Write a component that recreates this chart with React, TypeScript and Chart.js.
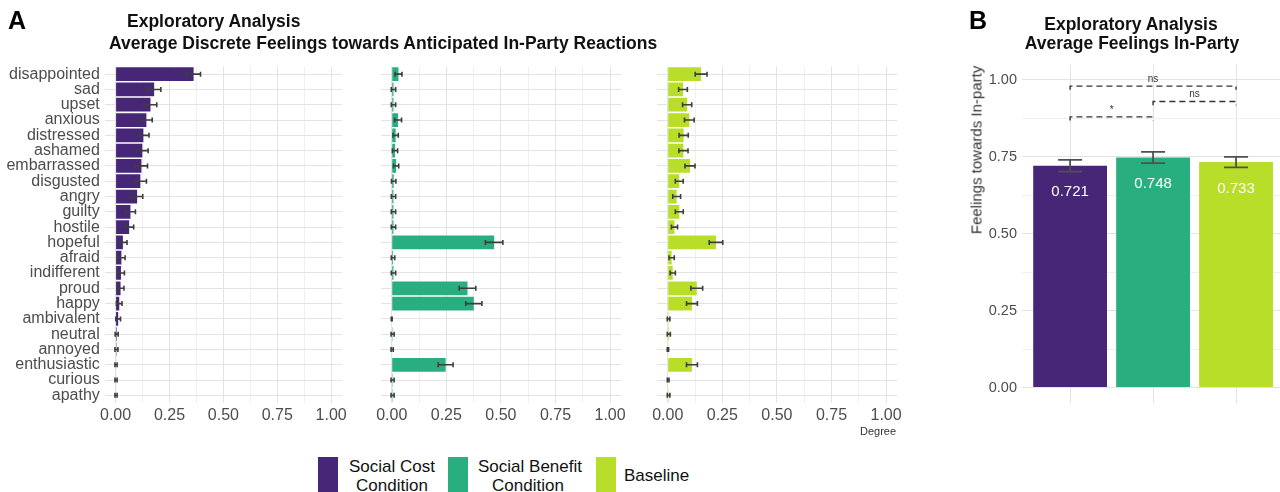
import React, { useEffect, useRef } from "react";
import { Chart, registerables } from "chart.js";

Chart.register(...registerables);

const FONT = '"Liberation Sans", Arial, Helvetica, sans-serif';

// Discrete feelings, top to bottom
const feelings = [
  "disappointed", "sad", "upset", "anxious", "distressed", "ashamed",
  "embarrassed", "disgusted", "angry", "guilty", "hostile", "hopeful",
  "afraid", "indifferent", "proud", "happy", "ambivalent", "neutral",
  "annoyed", "enthusiastic", "curious", "apathy",
];

// Mean degree of each feeling per condition
const socialCostMeans = [
  0.362, 0.179, 0.162, 0.143, 0.129, 0.124, 0.12, 0.115, 0.1, 0.069, 0.063,
  0.034, 0.027, 0.025, 0.023, 0.017, 0.012, 0.005, 0.004, 0.002, 0.002, 0.002,
];
const socialBenefitMeans = [
  0.031, 0.008, 0.008, 0.029, 0.018, 0.015, 0.02, 0.009, 0.008, 0.008, 0.008,
  0.469, 0.006, 0.008, 0.347, 0.376, 0.0, 0.004, 0.002, 0.247, 0.004, 0.004,
];
const baselineMeans = [
  0.153, 0.07, 0.089, 0.099, 0.073, 0.072, 0.102, 0.053, 0.041, 0.053, 0.031,
  0.221, 0.018, 0.023, 0.133, 0.111, 0.004, 0.005, 0.001, 0.111, 0.002, 0.004,
];

// Standard errors for the feelings
const socialCostErrors = [
  0.032, 0.031, 0.029, 0.027, 0.026, 0.027, 0.028, 0.028, 0.026, 0.023, 0.021,
  0.019, 0.017, 0.016, 0.016, 0.013, 0.011, 0.007, 0.007, 0.005, 0.005, 0.005,
];
const socialBenefitErrors = [
  0.016, 0.01, 0.01, 0.016, 0.012, 0.012, 0.012, 0.01, 0.01, 0.01, 0.01,
  0.04, 0.008, 0.01, 0.038, 0.037, 0.002, 0.007, 0.005, 0.034, 0.007, 0.007,
];
const baselineErrors = [
  0.027, 0.02, 0.021, 0.022, 0.021, 0.021, 0.023, 0.018, 0.018, 0.018, 0.014,
  0.031, 0.012, 0.012, 0.027, 0.025, 0.006, 0.007, 0.003, 0.025, 0.004, 0.006,
];

// Conditions
const conditionNames = ["Social Cost Condition", "Social Benefit Condition", "Baseline"];
const conditionColors = ["#482677", "#29AF7F", "#B8DE29"];

// Average feelings towards the in-party
const inPartyMeans = [0.721, 0.748, 0.733];
const inPartyErrors = [0.019, 0.018, 0.017];

// Pairwise comparisons (condition indices), bracket heights and labels
const comparisonPairs = [[0, 2], [1, 2], [0, 1]];
const comparisonLevels = [0.98, 0.93, 0.88];
const comparisonLabels = ["ns", "ns", "*"];

// Axis ticks: all gridlines, and those that carry a label
const gridTicks = [0, 0.125, 0.25, 0.375, 0.5, 0.625, 0.75, 0.875, 1];
const labelTicks = [0, 0.25, 0.5, 0.75, 1];

const TICK_COLOR = "#4d4d4d";
const MAJOR_GRID = "#e3e3e3";
const MINOR_GRID = "#f0f0f0";

const gridColor = (c: any) =>
  c.tick && labelTicks.includes(c.tick.value) ? MAJOR_GRID : MINOR_GRID;

// Draws mean ± error whiskers on the first dataset
const errorBarPlugin = {
  id: "errorBars",
  afterDatasetsDraw(chart: any, _args: any, opts: any) {
    if (!opts || !opts.errors) return;
    const ctx = chart.ctx;
    const meta = chart.getDatasetMeta(0);
    const values = chart.data.datasets[0].data;
    const horizontal = chart.options.indexAxis === "y";
    const valueScale = horizontal ? chart.scales.x : chart.scales.y;
    ctx.save();
    ctx.strokeStyle = opts.color;
    ctx.lineWidth = opts.width;
    meta.data.forEach((el: any, i: number) => {
      const raw = values[i];
      const v = typeof raw === "number" ? raw : raw.y;
      const e = opts.errors[i];
      const a = valueScale.getPixelForValue(v - e);
      const b = valueScale.getPixelForValue(v + e);
      const c = horizontal ? el.y : el.x;
      const h = opts.cap / 2;
      ctx.beginPath();
      if (horizontal) {
        ctx.moveTo(a, c); ctx.lineTo(b, c);
        ctx.moveTo(a, c - h); ctx.lineTo(a, c + h);
        ctx.moveTo(b, c - h); ctx.lineTo(b, c + h);
      } else {
        ctx.moveTo(c, a); ctx.lineTo(c, b);
        ctx.moveTo(c - h, a); ctx.lineTo(c + h, a);
        ctx.moveTo(c - h, b); ctx.lineTo(c + h, b);
      }
      ctx.stroke();
    });
    ctx.restore();
  },
};

// Value labels inside the bars and dashed significance brackets
const inPartyAnnotations = {
  id: "inPartyAnnotations",
  afterDatasetsDraw(chart: any, _args: any, opts: any) {
    const ctx = chart.ctx;
    const meta = chart.getDatasetMeta(0);
    const y = chart.scales.y;
    ctx.save();
    ctx.fillStyle = "#ffffff";
    ctx.font = `15px ${FONT}`;
    ctx.textAlign = "center";
    ctx.textBaseline = "middle";
    inPartyMeans.forEach((v, i) => {
      ctx.fillText(v.toFixed(3), meta.data[i].x, y.getPixelForValue(v - opts.labelDrop));
    });

    ctx.strokeStyle = "#333333";
    ctx.lineWidth = 1.4;
    ctx.setLineDash([6, 4]);
    ctx.fillStyle = "#333333";
    ctx.font = `10px ${FONT}`;
    ctx.textBaseline = "bottom";
    comparisonPairs.forEach(([a, b], k) => {
      const x1 = meta.data[a].x;
      const x2 = meta.data[b].x;
      const yy = y.getPixelForValue(comparisonLevels[k]);
      const yt = y.getPixelForValue(comparisonLevels[k] - opts.tip);
      ctx.beginPath();
      ctx.moveTo(x1, yt);
      ctx.lineTo(x1, yy);
      ctx.lineTo(x2, yy);
      ctx.lineTo(x2, yt);
      ctx.stroke();
      ctx.fillText(comparisonLabels[k], (x1 + x2) / 2, yy - 2);
    });
    ctx.restore();
  },
};

function feelingsConfig(
  values: number[],
  errors: number[],
  color: string,
  showLabels: boolean,
  yWidth: number,
  padding: any
) {
  return {
    type: "bar" as const,
    data: {
      labels: feelings,
      datasets: [
        {
          data: values,
          backgroundColor: color,
          borderWidth: 0,
          barPercentage: 0.9,
          categoryPercentage: 1,
        },
      ],
    },
    options: {
      indexAxis: "y" as const,
      responsive: false,
      animation: false as const,
      layout: { padding },
      plugins: {
        legend: { display: false },
        tooltip: { enabled: false },
        errorBars: { errors, color: "#3d3d3d", width: 1.6, cap: 5 },
      },
      scales: {
        x: {
          type: "linear" as const,
          min: -0.05,
          max: 1.05,
          afterBuildTicks: (s: any) => {
            s.ticks = gridTicks.map((v) => ({ value: v }));
          },
          afterFit: (s: any) => {
            s.height = 27;
          },
          grid: { color: gridColor, lineWidth: 1, drawTicks: false },
          border: { display: false },
          ticks: {
            autoSkip: false,
            maxRotation: 0,
            padding: 3,
            color: TICK_COLOR,
            font: { family: FONT, size: 16 },
            callback: (v: any) => (labelTicks.includes(v) ? Number(v).toFixed(2) : ""),
          },
        },
        y: {
          type: "category" as const,
          grid: { color: MAJOR_GRID, lineWidth: 1, drawTicks: false, offset: false },
          border: { display: false },
          afterFit: (s: any) => {
            s.width = yWidth;
          },
          ticks: {
            display: showLabels,
            autoSkip: false,
            padding: 5,
            color: TICK_COLOR,
            font: { family: FONT, size: 16 },
          },
        },
      },
    },
    plugins: [errorBarPlugin],
  };
}

function inPartyConfig() {
  return {
    type: "bar" as const,
    data: {
      datasets: [
        {
          label: "In-party",
          data: inPartyMeans.map((v, i) => ({ x: i + 1, y: v })),
          backgroundColor: conditionColors,
          borderWidth: 0,
          barPercentage: 0.89,
          categoryPercentage: 1,
        },
      ],
    },
    options: {
      responsive: false,
      animation: false as const,
      layout: { padding: { top: 64.6, left: 0, right: 0, bottom: 0 } },
      plugins: {
        legend: { display: false },
        tooltip: { enabled: false },
        errorBars: { errors: inPartyErrors, color: "#505050", width: 1.8, cap: 24 },
        inPartyAnnotations: { labelDrop: 0.086, tip: 0.012 },
      },
      scales: {
        x: {
          type: "linear" as const,
          min: 0.42,
          max: 3.53,
          offset: false,
          afterBuildTicks: (s: any) => {
            s.ticks = inPartyMeans.map((_, i) => ({ value: i + 1 }));
          },
          afterFit: (s: any) => {
            s.height = 17;
          },
          grid: { color: MAJOR_GRID, lineWidth: 1, drawTicks: false, offset: false },
          border: { display: false },
          ticks: { display: false },
        },
        y: {
          type: "linear" as const,
          min: -0.05,
          max: 1.05,
          afterBuildTicks: (s: any) => {
            s.ticks = gridTicks.map((v) => ({ value: v }));
          },
          afterFit: (s: any) => {
            s.width = 62;
          },
          grid: { color: gridColor, lineWidth: 1, drawTicks: false },
          border: { display: false },
          ticks: {
            autoSkip: false,
            padding: 5,
            color: TICK_COLOR,
            font: { family: FONT, size: 14.5 },
            callback: (v: any) => (labelTicks.includes(v) ? Number(v).toFixed(2) : ""),
          },
        },
      },
    },
    plugins: [errorBarPlugin, inPartyAnnotations],
  };
}

function ChartCanvas(props: {
  left: number;
  top: number;
  width: number;
  height: number;
  build: () => any;
}) {
  const ref = useRef<HTMLCanvasElement | null>(null);
  useEffect(() => {
    const chart = new Chart(ref.current as HTMLCanvasElement, props.build());
    return () => chart.destroy();
  }, []);
  return (
    <canvas
      ref={ref}
      width={props.width}
      height={props.height}
      style={{
        position: "absolute",
        left: props.left,
        top: props.top,
        width: props.width,
        height: props.height,
      }}
    />
  );
}

function Text(props: {
  x: number;
  y: number;
  size: number;
  bold?: boolean;
  color?: string;
  align?: "left" | "center";
  children: React.ReactNode;
}) {
  const centered = props.align === "center";
  return (
    <div
      style={{
        position: "absolute",
        left: props.x,
        top: props.y - props.size / 2,
        transform: centered ? "translateX(-50%)" : undefined,
        fontFamily: FONT,
        fontSize: props.size,
        lineHeight: `${props.size}px`,
        fontWeight: props.bold ? 700 : 400,
        color: props.color || "#111",
        whiteSpace: "nowrap",
      }}
    >
      {props.children}
    </div>
  );
}

function LegendKey(props: { x: number; color: string }) {
  return (
    <div
      style={{
        position: "absolute",
        left: props.x,
        top: 457,
        width: 20,
        height: 35,
        background: props.color,
      }}
    />
  );
}

export default function App() {
  const pad = { top: 66.5, left: 10.8, right: 9, bottom: 0 };
  return (
    <div
      style={{
        position: "absolute",
        left: 0,
        top: 0,
        width: 1280,
        height: 492,
        background: "#ffffff",
        overflow: "hidden",
      }}
    >
      <ChartCanvas
        left={0}
        top={0}
        width={350}
        height={430}
        build={() =>
          feelingsConfig(socialCostMeans, socialCostErrors, conditionColors[0], true, 104.8, {
            top: 66.5,
            left: 0,
            right: 6.1,
            bottom: 0,
          })
        }
      />
      <ChartCanvas
        left={370}
        top={0}
        width={260}
        height={430}
        build={() =>
          feelingsConfig(socialBenefitMeans, socialBenefitErrors, conditionColors[1], false, 0, pad)
        }
      />
      <ChartCanvas
        left={646}
        top={0}
        width={260}
        height={430}
        build={() => feelingsConfig(baselineMeans, baselineErrors, conditionColors[2], false, 0, pad)}
      />
      <ChartCanvas left={960} top={0} width={320} height={420} build={inPartyConfig} />

      <Text x={8} y={20} size={25} bold color="#000">A</Text>
      <Text x={127} y={22} size={17.5} bold>Exploratory Analysis</Text>
      <Text x={109} y={44} size={17.5} bold>
        Average Discrete Feelings towards Anticipated In-Party Reactions
      </Text>
      <Text x={878} y={431} size={11} color="#333" align="center">Degree</Text>

      <Text x={978} y={20} size={25} bold color="#000" align="center">B</Text>
      <Text x={1131} y={25} size={17.5} bold align="center">Exploratory Analysis</Text>
      <Text x={1132} y={44} size={17.5} bold align="center">Average Feelings In-Party</Text>
      <div
        style={{
          position: "absolute",
          left: 976,
          top: 150,
          transform: "translate(-50%, -50%) rotate(-90deg)",
          fontFamily: FONT,
          fontSize: 15,
          lineHeight: "15px",
          color: "#333",
          whiteSpace: "nowrap",
        }}
      >
        Feelings towards In-party
      </div>

      <LegendKey x={318} color={conditionColors[0]} />
      <Text x={392} y={466} size={17} align="center">Social Cost</Text>
      <Text x={392} y={485} size={17} align="center">Condition</Text>
      <LegendKey x={448} color={conditionColors[1]} />
      <Text x={530} y={466} size={17} align="center">Social Benefit</Text>
      <Text x={528} y={485} size={17} align="center">Condition</Text>
      <LegendKey x={596} color={conditionColors[2]} />
      <Text x={624} y={475} size={17}>Baseline</Text>
    </div>
  );
}
